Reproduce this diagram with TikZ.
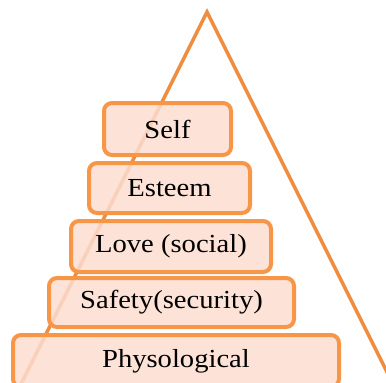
\documentclass[tikz,border=0pt]{standalone}
\usepackage{fontspec}
\setmainfont{Liberation Serif}[FakeStretch=1.1]
\usetikzlibrary{positioning, calc}

\definecolor{boxorange}{HTML}{F79646}
\definecolor{linorange}{HTML}{EF8C3E}
\definecolor{boxfill}{HTML}{FBDDD0}

\begin{document}
\begin{tikzpicture}[x=1pt, y=-1pt]

  % --- CONFIGURAÇÕES GERAIS ---
  \useasboundingbox (0,0) rectangle (386,383);
  \clip (0,0) rectangle (386,383);

  % Estilo para os níveis da pirâmide
  \tikzstyle{level}=[draw=boxorange, line width=4pt, rounded corners=8pt,
    fill=boxfill, fill opacity=0.85, text opacity=1, inner sep=0pt,
    font=\fontsize{26}{26}\selectfont]

  % --- TRIÂNGULO ---
  \coordinate (top) at (207, 12);
  \coordinate (baseL) at (15, 396);
  \coordinate (baseR) at (399, 396);
  \draw [linorange, line width=3.5pt] (baseL) -- (top) -- (baseR);

  % --- NÍVEIS (de cima para baixo) ---
  \node[level, minimum width=127pt, minimum height=52pt] (self) at (167.5, 129) {Self};
  \node[level, minimum width=161pt, minimum height=50pt] (esteem) at (169.5, 188) {Esteem};
  \node[level, minimum width=200pt, minimum height=51pt] (love) at (171, 246.5) {Love (social)};
  \node[level, minimum width=245pt, minimum height=49pt] (safety) at (171.5, 302.5) {Safety(security)};
  \node[level, minimum width=326pt, minimum height=52pt] (physo) at (176, 361) {Physological};

\end{tikzpicture}
\end{document}
